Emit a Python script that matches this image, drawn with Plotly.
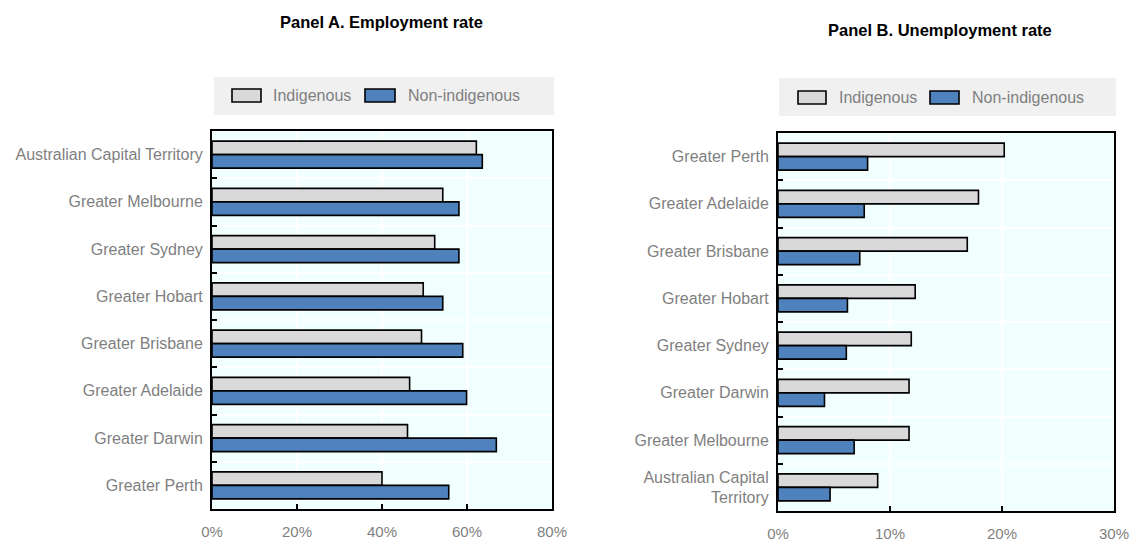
import plotly.graph_objects as go

# ---------------- data ----------------
cats_a = ["Australian Capital Territory", "Greater Melbourne", "Greater Sydney", "Greater Hobart",
          "Greater Brisbane", "Greater Adelaide", "Greater Darwin", "Greater Perth"]
emp_indigenous = [62.2, 54.3, 52.4, 49.7, 49.3, 46.5, 46.0, 40.0]
emp_non_indigenous = [63.6, 58.1, 58.1, 54.3, 59.0, 59.9, 66.9, 55.7]

cats_b = ["Greater Perth", "Greater Adelaide", "Greater Brisbane", "Greater Hobart",
          "Greater Sydney", "Greater Darwin", "Greater Melbourne", "Australian Capital<br>Territory"]
unemp_indigenous = [20.2, 17.9, 16.9, 12.25, 11.9, 11.7, 11.7, 8.9]
unemp_non_indigenous = [8.0, 7.7, 7.3, 6.2, 6.1, 4.15, 6.8, 4.65]

series_names = ["Indigenous", "Non-indigenous"]
titles = ["Panel A. Employment rate", "Panel B. Unemployment rate"]
x_ranges = [[0, 80], [0, 30]]
x_dticks = [20, 10]

# ---------------- style ----------------
OFF = 0
W, H = 1132, 542
C_IND = "#D9D9D9"
C_NON = "#4F81BD"
FONT = "Liberation Sans, Arial, sans-serif"
GREY = "#7F7F7F"

def px(x):
    return (x - OFF) / W

def py(y):
    return 1 - (y - OFF) / H

fig = go.Figure()

panels = [
    dict(cats=cats_a, ind=emp_indigenous, non=emp_non_indigenous, xa="x", ya="y",
         xdom=[212, 552], ydom=[131, 509]),
    dict(cats=cats_b, ind=unemp_indigenous, non=unemp_non_indigenous, xa="x2", ya="y2",
         xdom=[778, 1114], ydom=[133, 511]),
]

for p in panels:
    fig.add_trace(go.Bar(y=p["cats"], x=p["ind"], orientation="h", name=series_names[0],
                         marker=dict(color=C_IND, line=dict(color="black", width=1.6)),
                         xaxis=p["xa"], yaxis=p["ya"], showlegend=False, hoverinfo="x+y"))
    fig.add_trace(go.Bar(y=p["cats"], x=p["non"], orientation="h", name=series_names[1],
                         marker=dict(color=C_NON, line=dict(color="black", width=1.6)),
                         xaxis=p["xa"], yaxis=p["ya"], showlegend=False, hoverinfo="x+y"))

layout_axes = {}
for i, p in enumerate(panels):
    sx = "" if i == 0 else str(i + 1)
    layout_axes["xaxis" + sx] = dict(
        domain=[px(p["xdom"][0]), px(p["xdom"][1])],
        anchor="y" + sx, automargin=False,
        range=x_ranges[i], dtick=x_dticks[i], ticksuffix="%",
        showgrid=True, gridcolor="white", gridwidth=1.5, zeroline=False,
        showline=True, linecolor="black", linewidth=2, mirror=True,
        ticks="inside", ticklen=5, tickcolor="black", tickwidth=1.5,
        tickfont=dict(family=FONT, size=15, color=GREY),
        ticklabelstandoff=8, fixedrange=True,
    )
    layout_axes["yaxis" + sx] = dict(
        domain=[py(p["ydom"][1]), py(p["ydom"][0])],
        anchor="x" + sx, automargin=False,
        type="category", autorange="reversed", tickson="boundaries",
        showgrid=True, gridcolor="white", gridwidth=1.5, zeroline=False,
        showline=True, linecolor="black", linewidth=2, mirror=True,
        ticks="inside", ticklen=5, tickcolor="black", tickwidth=1.5,
        tickfont=dict(family=FONT, size=16, color=GREY),
        ticklabelstandoff=4, fixedrange=True,
    )

shapes = []
annotations = []

# legend boxes and titles (per panel)
legend_specs = [
    dict(box=[214, 77, 554, 115], sw=[(232, 89, 261, 102), (365, 89, 395, 102)], tx=[271, 406],
         title_xy=(381, 22)),
    dict(box=[779, 78, 1116, 116], sw=[(798, 91, 826, 104), (930, 91, 959, 104)], tx=[837, 970],
         title_xy=(940, 30)),
]
for i, spec in enumerate(legend_specs):
    x0, y0, x1, y1 = spec["box"]
    shapes.append(dict(type="rect", xref="paper", yref="paper",
                       x0=px(x0), x1=px(x1), y0=py(y1), y1=py(y0),
                       fillcolor="#F0F0F0", line=dict(width=0), layer="below"))
    for j, (a, b, c, d) in enumerate(spec["sw"]):
        shapes.append(dict(type="rect", xref="paper", yref="paper",
                           x0=px(a), x1=px(c), y0=py(d), y1=py(b),
                           fillcolor=[C_IND, C_NON][j], line=dict(color="black", width=1.6)))
        annotations.append(dict(text=series_names[j], xref="paper", yref="paper",
                                x=px(spec["tx"][j]), y=py((b + d) / 2),
                                xanchor="left", yanchor="middle", showarrow=False,
                                font=dict(family=FONT, size=16, color=GREY)))
    tx, ty = spec["title_xy"]
    annotations.append(dict(text="<b>" + titles[i] + "</b>", xref="paper", yref="paper",
                            x=px(tx), y=py(ty), xanchor="center", yanchor="middle",
                            showarrow=False, font=dict(family=FONT, size=16.5, color="black")))

fig.update_layout(
    template="none",
    width=W, height=H, autosize=False,
    margin=dict(l=0, r=0, t=0, b=0, pad=0, autoexpand=False),
    paper_bgcolor="white", plot_bgcolor="#F2FFFF",
    barmode="group", bargap=0.43, bargroupgap=0,
    showlegend=False,
    shapes=shapes, annotations=annotations,
    font=dict(family=FONT),
    **layout_axes,
)

fig.write_html("out.html", config={"displayModeBar": False},
               post_script="document.body.style.margin='0';document.body.style.overflow='hidden';")
